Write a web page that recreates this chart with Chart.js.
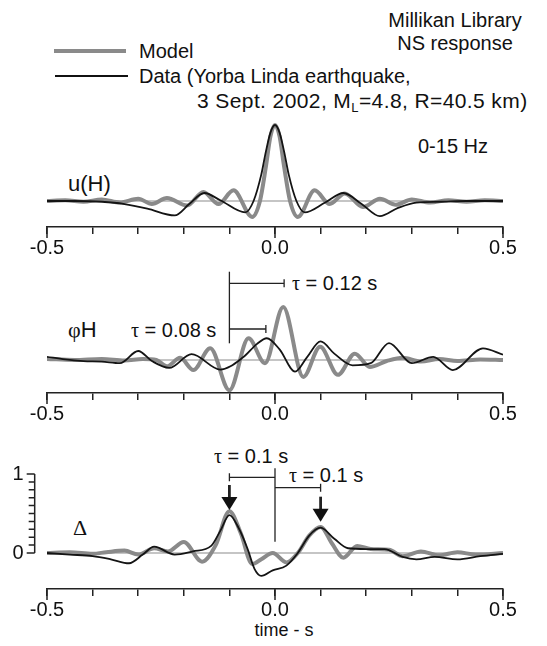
<!DOCTYPE html>
<html>
<head>
<meta charset="utf-8">
<script src="https://cdn.jsdelivr.net/npm/chart.js@4.4.1/dist/chart.umd.min.js"></script>
<style>
  body { margin: 0; background: #fff; }
  #page { position: relative; width: 547px; height: 646px; overflow: hidden;
          font-family: "Liberation Sans", Arial, sans-serif; color: #111; }
  .txt { position: absolute; font-size: 20px; line-height: 1; white-space: nowrap; }
  .sym { font-family: "Liberation Serif", serif; }
  .key { position: absolute; }
  canvas { position: absolute; left: 0; }
</style>
</head>
<body>
<div id="page">
  <div class="txt" style="left:455px; top:10px; transform:translateX(-50%)">Millikan Library</div>
  <div class="txt" style="left:455px; top:33px; transform:translateX(-50%)">NS response</div>
  <div class="key" style="left:54px; top:49px; width:72px; height:4px; background:#8a8a8a"></div>
  <div class="txt" style="left:139px; top:41px">Model</div>
  <div class="key" style="left:55px; top:75px; width:73px; height:2px; background:#111"></div>
  <div class="txt" style="left:139px; top:66px">Data (Yorba Linda earthquake,</div>
  <div class="txt" style="left:197px; top:90px; font-size:21px; letter-spacing:0.4px">3 Sept. 2002, M<span style="font-size:13px; vertical-align:-4px">L</span>=4.8, R=40.5 km)</div>
  <div class="txt" style="left:418px; top:136px">0-15 Hz</div>
  <div class="txt" style="left:68px; top:173px; font-size:22px">u(H)</div>
  <div class="txt" style="left:292px; top:273px"><span class="sym">τ</span> = 0.12 s</div>
  <div class="txt" style="left:68px; top:319px; font-size:22px"><span class="sym">φ</span>H</div>
  <div class="txt" style="left:131px; top:320px"><span class="sym">τ</span> = 0.08 s</div>
  <div class="txt" style="left:214px; top:446px"><span class="sym">τ</span> = 0.1 s</div>
  <div class="txt" style="left:289px; top:465px"><span class="sym">τ</span> = 0.1 s</div>
  <div class="txt sym" style="left:73px; top:517px; font-size:22px">Δ</div>
  <div class="txt" style="left:284px; top:621px; font-size:18px; transform:translateX(-50%)">time - s</div>

  <canvas id="c1" width="547" height="157" style="top:110px"></canvas>
  <canvas id="c2" width="547" height="171" style="top:262px"></canvas>
  <canvas id="c3" width="547" height="167" style="top:462px"></canvas>
</div>

<script>
// time axis (s)
const xMajorTicks = [-0.5, 0, 0.5];
const xTickLabels = ['-0.5', '0.0', '0.5'];

// u(H), normalised to peak
const uhModelT = [-0.5, -0.46, -0.42, -0.38, -0.34, -0.30, -0.27, -0.237, -0.193, -0.157, -0.124, -0.091, -0.05, -0.033, -0.02, -0.01, 0, 0.01, 0.02, 0.033, 0.05, 0.087, 0.12, 0.153, 0.193, 0.23, 0.265, 0.30, 0.34, 0.38, 0.42, 0.46, 0.5];
const uhModelV = [0, 0.01, -0.01, 0.02, -0.02, 0.03, -0.04, 0.04, -0.06, 0.12, -0.04, 0.14, -0.21, 0.0, 0.45, 0.85, 1.0, 0.85, 0.45, 0.0, -0.21, 0.14, -0.04, 0.10, -0.08, 0.03, -0.05, 0.02, -0.02, 0.01, -0.01, 0.01, 0];
const uhDataT = [-0.5, -0.44, -0.38, -0.33, -0.28, -0.22, -0.188, -0.155, -0.12, -0.065, -0.047, -0.03, -0.02, -0.01, 0, 0.01, 0.02, 0.03, 0.047, 0.065, 0.11, 0.15, 0.19, 0.23, 0.27, 0.31, 0.36, 0.42, 0.5];
const uhDataV = [0, 0, -0.01, -0.04, -0.10, -0.19, -0.04, 0.105, 0.01, -0.15, 0.0, 0.35, 0.65, 0.9, 1.0, 0.9, 0.65, 0.35, 0.0, -0.15, -0.02, 0.105, -0.04, -0.20, -0.09, -0.02, -0.01, 0, 0];

// phi H
const phModelT = [-0.5, -0.44, -0.38, -0.33, -0.29, -0.26, -0.237, -0.208, -0.179, -0.142, -0.10, -0.058, -0.022, 0.018, 0.062, 0.099, 0.138, 0.175, 0.208, 0.245, 0.28, 0.32, 0.36, 0.40, 0.45, 0.5];
const phModelV = [0.02, 0.0, 0.02, -0.01, 0.02, 0.0, -0.12, 0.04, -0.19, 0.22, -0.57, 0.41, -0.06, 1.0, -0.32, 0.25, -0.28, 0.12, -0.13, -0.02, 0.04, -0.03, 0.02, -0.02, 0.01, 0.0];
const phDataT = [-0.5, -0.46, -0.42, -0.38, -0.34, -0.30, -0.27, -0.232, -0.183, -0.12, -0.07, -0.04, -0.018, 0.01, 0.044, 0.07, 0.10, 0.13, 0.17, 0.21, 0.25, 0.30, 0.347, 0.39, 0.456, 0.5];
const phDataV = [0.06, 0.01, -0.02, -0.03, -0.06, 0.17, -0.02, -0.15, 0.11, -0.18, 0.05, 0.3, 0.41, 0.2, -0.22, 0.05, 0.35, 0.12, -0.1, -0.06, 0.32, -0.06, 0.06, -0.19, 0.22, 0.1];

// Delta
const dlModelT = [-0.5, -0.45, -0.40, -0.37, -0.33, -0.30, -0.265, -0.235, -0.20, -0.16, -0.13, -0.10, -0.075, -0.05, -0.03, -0.005, 0.025, 0.05, 0.075, 0.10, 0.125, 0.15, 0.18, 0.21, 0.25, 0.28, 0.32, 0.36, 0.40, 0.44, 0.5];
const dlModelV = [0.0, 0.01, -0.01, 0.01, 0.03, -0.02, 0.06, 0.02, 0.14, -0.11, 0.1, 0.53, 0.25, -0.14, -0.08, 0.0, -0.12, 0.0, 0.22, 0.33, 0.12, -0.06, 0.09, 0.05, 0.04, -0.04, 0.02, -0.03, 0.01, -0.02, 0.0];
const dlDataT = [-0.5, -0.45, -0.40, -0.36, -0.32, -0.29, -0.265, -0.22, -0.18, -0.14, -0.12, -0.10, -0.08, -0.06, -0.045, -0.03, -0.005, 0.025, 0.05, 0.075, 0.10, 0.13, 0.16, 0.20, 0.24, 0.28, 0.31, 0.35, 0.40, 0.45, 0.5];
const dlDataV = [0.0, -0.02, -0.04, -0.08, -0.13, -0.02, 0.08, -0.02, 0.02, 0.09, 0.28, 0.48, 0.32, 0.05, -0.2, -0.29, -0.22, -0.16, 0.0, 0.22, 0.32, 0.18, 0.06, 0.05, 0.05, -0.05, -0.08, -0.05, -0.08, -0.04, -0.01];
const dlYTicks = [0, 0.1, 0.2, 0.3, 0.4, 0.5, 0.6, 0.7, 0.8, 0.9, 1];
const dlYLabels = { 0: '0', 1: '1' };

// delay brackets (s)
const phTauStart = -0.1;
const phTaus = [0.12, 0.08];
const dlTauCentre = 0;
const dlTau = 0.1;

const modelColor = '#8a8a8a';
const dataColor = '#141414';

function zip(t, v) { return t.map((x, i) => ({ x, y: v[i] })); }

// zero line, longer major ticks, brackets, arrows and the small y axis
const decor = {
  id: 'decor',
  beforeDatasetsDraw(chart, args, opts) {
    const { ctx, scales: { x, y } } = chart;
    ctx.save();
    ctx.strokeStyle = '#8c8c8c';
    ctx.lineWidth = 1.2;
    ctx.beginPath();
    ctx.moveTo(x.getPixelForValue(-0.5), y.getPixelForValue(0));
    ctx.lineTo(x.getPixelForValue(0.5), y.getPixelForValue(0));
    ctx.stroke();
    ctx.restore();
  },
  afterDraw(chart, args, opts) {
    const { ctx, chartArea, scales: { x, y } } = chart;
    ctx.save();
    ctx.strokeStyle = '#222';
    ctx.fillStyle = '#111';
    ctx.lineWidth = 1.5;
    xMajorTicks.forEach(v => {
      const px = x.getPixelForValue(v);
      ctx.beginPath();
      ctx.moveTo(px, chartArea.bottom);
      ctx.lineTo(px, chartArea.bottom + 11);
      ctx.stroke();
    });
    ctx.lineWidth = 1.3;
    (opts.vlines || []).forEach(l => {
      ctx.beginPath();
      ctx.moveTo(x.getPixelForValue(l.x), y.getPixelForValue(l.y0));
      ctx.lineTo(x.getPixelForValue(l.x), y.getPixelForValue(l.y1));
      ctx.stroke();
    });
    (opts.brackets || []).forEach(b => {
      const x0 = x.getPixelForValue(b.x0), x1 = x.getPixelForValue(b.x1), py = y.getPixelForValue(b.y);
      ctx.beginPath();
      ctx.moveTo(x0, py);
      ctx.lineTo(x1, py);
      if (b.capLeft) { ctx.moveTo(x0, py - 4); ctx.lineTo(x0, py + 4); }
      if (b.capRight) { ctx.moveTo(x1, py - 4); ctx.lineTo(x1, py + 4); }
      ctx.stroke();
    });
    (opts.arrows || []).forEach(a => {
      const px = x.getPixelForValue(a.x), y0 = y.getPixelForValue(a.y0), y1 = y.getPixelForValue(a.y1);
      ctx.lineWidth = 2.8;
      ctx.beginPath();
      ctx.moveTo(px, y0);
      ctx.lineTo(px, y1 - 10);
      ctx.stroke();
      ctx.beginPath();
      ctx.moveTo(px - 8, y1 - 13);
      ctx.lineTo(px + 8, y1 - 13);
      ctx.lineTo(px, y1);
      ctx.closePath();
      ctx.fill();
    });
    if (opts.yAxis) {
      const ax = x.getPixelForValue(opts.yAxis.x);
      const tks = opts.yAxis.ticks;
      ctx.lineWidth = 1.5;
      ctx.beginPath();
      ctx.moveTo(ax, y.getPixelForValue(tks[0]));
      ctx.lineTo(ax, y.getPixelForValue(tks[tks.length - 1]));
      tks.forEach(v => {
        const py = y.getPixelForValue(v);
        ctx.moveTo(ax, py);
        ctx.lineTo(ax - (opts.yAxis.labels[v] ? 8 : 6), py);
      });
      ctx.stroke();
      ctx.font = '20px "Liberation Sans", Arial, sans-serif';
      ctx.textAlign = 'right';
      ctx.textBaseline = 'middle';
      Object.keys(opts.yAxis.labels).forEach(k => {
        ctx.fillText(opts.yAxis.labels[k], ax - 11, y.getPixelForValue(Number(k)));
      });
    }
    ctx.restore();
  }
};

function makePanel(id, modelPts, dataPts, yMin, yMax, padTop, decorOpts) {
  return new Chart(document.getElementById(id), {
    type: 'line',
    data: {
      datasets: [
        { label: 'Model', data: modelPts, borderColor: modelColor, borderWidth: 4, order: 2 },
        { label: 'Data', data: dataPts, borderColor: dataColor, borderWidth: 1.8, order: 1 }
      ]
    },
    options: {
      responsive: false,
      animation: false,
      events: [],
      elements: {
        point: { radius: 0 },
        line: { cubicInterpolationMode: 'monotone', fill: false }
      },
      layout: { padding: { left: 47, right: 44, top: padTop, bottom: 0 } },
      scales: {
        x: {
          type: 'linear', min: -0.5, max: 0.5,
          afterFit: s => { s.height = 40; },
          ticks: {
            stepSize: 0.1, autoSkip: false, maxRotation: 0, padding: 2, color: '#111',
            font: { family: '"Liberation Sans", Arial, sans-serif', size: 20 },
            callback: v => {
              const i = xMajorTicks.findIndex(m => Math.abs(m - v) < 1e-9);
              return i >= 0 ? xTickLabels[i] : '';
            }
          },
          grid: { drawOnChartArea: false, drawTicks: true, tickLength: 7, color: '#222', lineWidth: 1.5 },
          border: { display: true, color: '#222', width: 1.5 }
        },
        y: { display: false, min: yMin, max: yMax }
      },
      plugins: { legend: { display: false }, tooltip: { enabled: false }, decor: decorOpts }
    },
    plugins: [decor]
  });
}

makePanel('c1', zip(uhModelT, uhModelV), zip(uhDataT, uhDataV), -0.342, 1.171, 2, {});

makePanel('c2', zip(phModelT, phModelV), zip(phDataT, phDataV), -0.623, 1.755, 5, {
  vlines: [{ x: phTauStart, y0: 1.666, y1: 0.315 }],
  brackets: [
    { x0: phTauStart, x1: phTauStart + phTaus[0], y: 1.447, capRight: true },
    { x0: phTauStart, x1: phTauStart + phTaus[1], y: 0.585, capRight: true }
  ]
});

makePanel('c3', zip(dlModelT, dlModelV), zip(dlDataT, dlDataV), -0.456, 1.089, 5, {
  vlines: [{ x: dlTauCentre, y0: 1.072, y1: 0.143 }],
  brackets: [
    { x0: dlTauCentre - dlTau, x1: dlTauCentre, y: 0.958, capLeft: true },
    { x0: dlTauCentre, x1: dlTauCentre + dlTau, y: 0.827, capRight: true }
  ],
  arrows: [
    { x: dlTauCentre - dlTau, y0: 0.861, y1: 0.544 },
    { x: dlTauCentre + dlTau, y0: 0.713, y1: 0.396 }
  ],
  yAxis: { x: -0.527, ticks: dlYTicks, labels: dlYLabels }
});
</script>
</body>
</html>
